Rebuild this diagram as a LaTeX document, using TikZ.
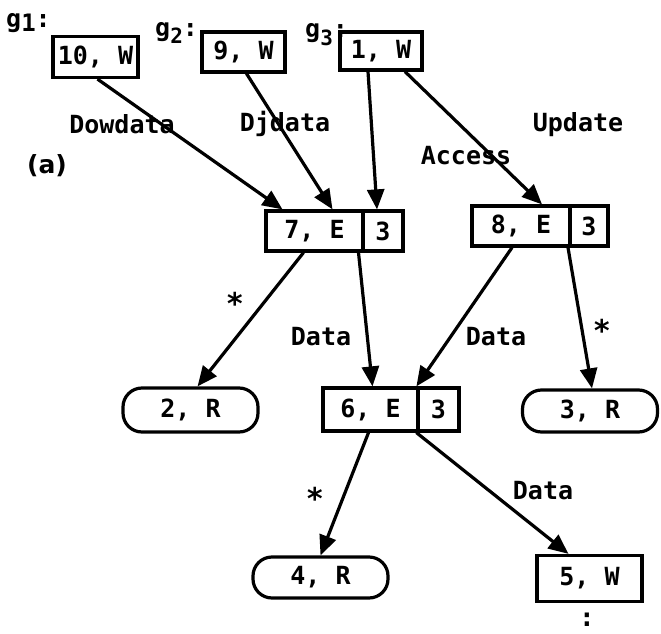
\documentclass[tikz,border=0pt]{standalone}
\usepackage{fontspec}
\newfontfamily\monof{DejaVu Sans Mono}
\newfontfamily\sansf{DejaVu Sans}
\usetikzlibrary{arrows.meta}
\begin{document}
\begin{tikzpicture}[x=1pt,y=-1pt,
  txt/.style={font=\monof\bfseries\fontsize{25}{25}\selectfont, inner sep=0pt},
  sq/.style={txt, draw, line width=3.2pt, minimum height=40pt},
  rr/.style={txt, draw, line width=3.2pt, rounded corners=19pt, minimum width=135pt, minimum height=42pt},
  conn/.style={line width=3.2pt, -{Triangle[length=20pt,width=17pt]}},
  lbl/.style={txt},
  star/.style={font=\monof\bfseries\fontsize{30}{30}\selectfont, inner sep=0pt}]
\useasboundingbox (0,0) rectangle (661,634);
% top boxes
\node[sq, minimum width=85pt, minimum height=41pt] (g1) at (95.5,57) {10, W};
\node[sq, minimum width=83pt] (g2) at (243.5,52) {9, W};
\node[sq, minimum width=82pt, minimum height=38pt] (g3) at (381,51) {1, W};
% graph labels
\node[txt, anchor=base west] (lg1) at (6,28) {g\raisebox{-4pt}{\fontsize{24}{24}\selectfont 1}:};
\node[txt, anchor=base west] (lg2) at (155,37) {g\raisebox{-7pt}{\fontsize{21}{21}\selectfont 2}:};
\node[txt, anchor=base west] (lg3) at (305,38) {g\raisebox{-7pt}{\fontsize{21}{21}\selectfont 3}:};
\node[font=\sansf\bfseries\fontsize{25}{25}\selectfont, inner sep=0pt] (la) at (47,166) {(a)};
% split boxes
\node[sq, minimum width=97pt] (n7) at (314.5,231) {7, E};
\node[sq, minimum width=40pt] (n7r) at (383,231) {3};
\node[sq, minimum width=98pt] (n8) at (521,226) {8, E};
\node[sq, minimum width=38pt] (n8r) at (589,226) {3};
\node[sq, minimum width=95pt, minimum height=43pt] (n6) at (370.5,409.5) {6, E};
\node[sq, minimum width=41pt, minimum height=43pt] (n6r) at (438.5,409.5) {3};
% leaves
\node[rr, minimum height=44pt] (r2) at (190.5,410) {2, R};
\node[rr] (r3) at (590,411) {3, R};
\node[rr, minimum height=41pt] (r4) at (320.5,577.5) {4, R};
\node[sq, minimum width=105pt, minimum height=46pt] (w5) at (589.5,578.5) {5, W};
\node[font=\monof\bfseries\fontsize{26}{26}\selectfont, inner sep=0pt] (dots) at (587,620) {:};
% connectors
\draw[conn] ([xshift=2pt]g1.south) -- ([xshift=-32pt]n7.north);
\draw[conn] ([xshift=3pt]g2.south) -- ([xshift=18pt]n7.north);
\draw[conn] ([xshift=-13pt]g3.south) -- ([xshift=-6pt]n7r.north);
\draw[conn] ([xshift=24pt]g3.south) -- ([xshift=21pt]n8.north);
\draw[conn] ([xshift=-11pt]n7.south) -- ([xshift=7pt]r2.north);
\draw[conn] ([xshift=44pt]n7.south) -- ([xshift=2pt]n6.north);
\draw[conn] ([xshift=-9pt]n8.south) -- (n6r.north west);
\draw[conn] ([xshift=47pt]n8.south) -- ([xshift=2pt]r3.north);
\draw[conn] ([xshift=-2pt]n6.south) -- (r4.north);
\draw[conn] (n6r.south west) -- ([xshift=-21pt]w5.north);
% edge labels
\node[lbl] (e1) at (122,124) {Dowdata};
\node[lbl] (e2) at (285,124) {Djdata};
\node[lbl] (e3) at (466,156) {Access};
\node[lbl] (e4) at (578,125) {Update};
\node[lbl] (e5) at (321,337) {Data};
\node[lbl] (e6) at (496,337) {Data};
\node[lbl] (e7) at (543,491) {Data};
\node[star, anchor=center] (s1) at (235,303) {*};
\node[star, anchor=center] (s2) at (602,330) {*};
\node[star, anchor=center] (s3) at (315,498) {*};
\end{tikzpicture}
\end{document}
